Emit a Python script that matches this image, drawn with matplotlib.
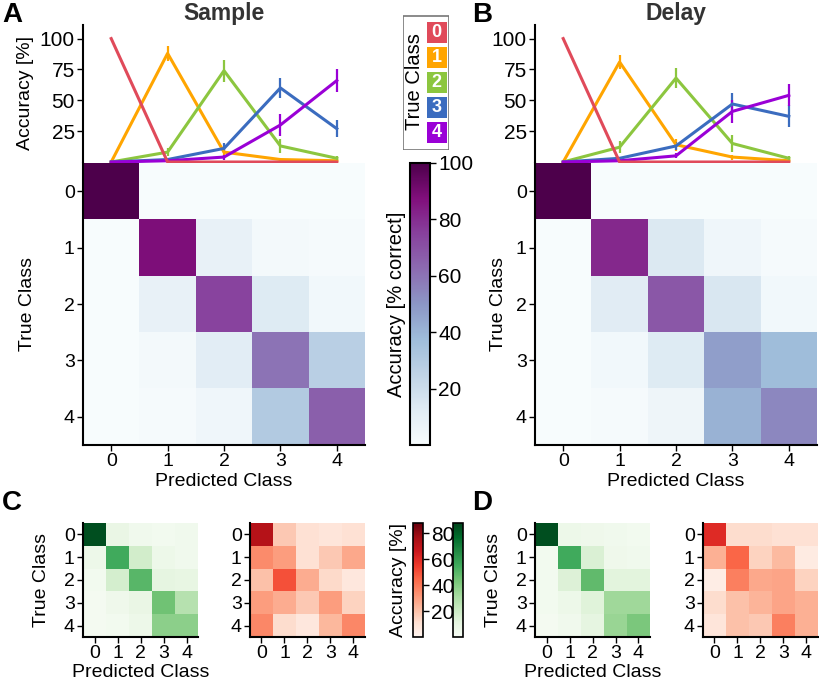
import numpy as np
import matplotlib
matplotlib.use("Agg")
import matplotlib.pyplot as plt
from matplotlib.patches import Rectangle

plt.rcParams['font.family'] = ['Liberation Sans', 'DejaVu Sans']

classes = [0, 1, 2, 3, 4]
class_colors = ['#e04a5a', '#ffa500', '#8cc63f', '#3b6cbf', '#9a00d6']

# Confusion matrices (rows = true class, cols = predicted class), % correct
sample_cm = [
    [100, 0, 0, 0, 0],
    [0, 88, 8, 2, 1],
    [0, 8, 74, 13, 3],
    [0, 2, 11, 60, 27],
    [0, 1, 4, 30, 66],
]
sample_err = [
    [0, 0, 0, 0, 0],
    [0, 6, 3, 1, 1],
    [0, 3, 9, 6, 2],
    [0, 1, 4, 8, 7],
    [0, 1, 2, 9, 9],
]
delay_cm = [
    [100, 0, 0, 0, 0],
    [0, 81, 14, 4, 1],
    [0, 12, 68, 15, 3],
    [0, 3, 13, 47, 37],
    [0, 1, 5, 41, 54],
]
delay_err = [
    [0, 0, 0, 0, 0],
    [0, 6, 5, 2, 1],
    [0, 5, 8, 7, 2],
    [0, 1, 3, 9, 9],
    [0, 1, 2, 9, 9],
]
# Single-example matrices (bottom row)
sample_green = [
    [85, 8, 4, 3, 4],
    [6, 55, 18, 6, 4],
    [3, 17, 50, 10, 9],
    [2, 5, 8, 45, 27],
    [2, 3, 6, 38, 38],
]
sample_red = [
    [72, 18, 10, 8, 10],
    [35, 30, 10, 18, 27],
    [20, 50, 26, 13, 7],
    [30, 26, 18, 30, 15],
    [36, 12, 7, 23, 36],
]
delay_green = [
    [85, 6, 5, 4, 3],
    [3, 55, 15, 5, 4],
    [3, 14, 48, 12, 12],
    [3, 6, 13, 33, 33],
    [2, 4, 10, 35, 42],
]
delay_red = [
    [60, 12, 12, 10, 10],
    [25, 45, 15, 22, 5],
    [4, 38, 27, 28, 15],
    [12, 20, 24, 28, 25],
    [8, 20, 18, 38, 25],
]
main_ticks = [20, 40, 60, 80, 100]
line_ticks = [25, 50, 75, 100]
small_ticks = [20, 40, 60, 80]
small_vmax = 88

W, H = 820, 683
fig = plt.figure(figsize=(W / 100, H / 100), dpi=100)


def ax_px(x0, y0, x1, y1):
    return fig.add_axes([x0 / W, 1 - y1 / H, (x1 - x0) / W, (y1 - y0) / H])


FS = 14


def style_heat(ax, fs=FS):
    ax.set_xticks(classes)
    ax.set_yticks(classes)
    ax.set_xticklabels([str(c) for c in classes], fontsize=fs)
    ax.set_yticklabels([str(c) for c in classes], fontsize=fs)
    for s in ['top', 'right']:
        ax.spines[s].set_visible(False)
    for s in ['left', 'bottom']:
        ax.spines[s].set_linewidth(1.5)
    ax.tick_params(length=4, width=1, pad=2)


def heat(ax, data, cmap, vmax):
    im = ax.imshow(np.array(data, float), cmap=cmap, vmin=0, vmax=vmax,
                   aspect='auto', interpolation='nearest')
    return im


def lines(ax, cm, err):
    for i, c in enumerate(classes):
        ax.errorbar(classes, cm[i], yerr=err[i], color=class_colors[i],
                    lw=2.2, elinewidth=1.6, capsize=0, clip_on=False, zorder=3 + (i == 0))
    ax.set_xlim(-0.5, 4.5)
    ax.set_ylim(0, 111)
    ax.set_yticks(line_ticks)
    ax.set_yticklabels([str(t) for t in line_ticks], fontsize=FS + 1)
    ax.set_xticks([])
    for s in ['top', 'right', 'bottom']:
        ax.spines[s].set_visible(False)
    ax.spines['left'].set_linewidth(1.5)
    ax.tick_params(axis='y', length=4, width=1, pad=2)
    ax.patch.set_alpha(0)


# ---- Panel A ----
axA = ax_px(83, 25, 365, 162)
lines(axA, sample_cm, sample_err)
axA.set_ylabel('Accuracy [%]', fontsize=FS, labelpad=4)
axA.set_title('Sample', fontsize=16.5, fontweight='bold', color='#333333', pad=3)

hA = ax_px(83, 163, 365, 445)
im_main = heat(hA, sample_cm, 'BuPu', 100)
style_heat(hA)
hA.set_xlabel('Predicted Class', fontsize=FS, labelpad=2)
hA.set_ylabel('True Class', fontsize=FS, labelpad=20)

# ---- Panel B ----
axB = ax_px(535, 25, 817, 162)
lines(axB, delay_cm, delay_err)
axB.set_title('Delay', fontsize=16.5, fontweight='bold', color='#333333', pad=3)

hB = ax_px(535, 163, 817, 445)
heat(hB, delay_cm, 'BuPu', 100)
style_heat(hB)
hB.set_xlabel('Predicted Class', fontsize=FS, labelpad=2)
hB.set_ylabel('True Class', fontsize=FS, labelpad=6)

# ---- main colorbar ----
cax = ax_px(410, 163, 430, 445)
cb = fig.colorbar(im_main, cax=cax)
cb.set_ticks(main_ticks)
cb.ax.tick_params(labelsize=FS + 1, length=4, width=1, pad=2)
cb.outline.set_linewidth(1.5)
cax.yaxis.set_label_position('left')
cb.set_label('Accuracy [% correct]', fontsize=FS + 0.5, labelpad=3)

# ---- legend ----
lg = ax_px(403, 15, 449, 150)
lg.set_xlim(0, 46)
lg.set_ylim(135, 0)
lg.axis('off')
lg.add_patch(Rectangle((0.5, 0.5), 45, 134, fill=False, ec='#777777', lw=1.2))
lg.text(12, 67, 'True Class', rotation=90, ha='center', va='center', fontsize=FS + 0.5)
for i, c in enumerate(classes):
    y0 = 7 + i * 25
    lg.add_patch(Rectangle((24, y0), 19.5, 21, color=class_colors[i], lw=0))
    lg.text(33.7, y0 + 10.8, str(c), ha='center', va='center', color='white',
            fontsize=13, fontweight='bold')

# ---- Panel C ----
cG = ax_px(83, 523, 198, 637)
imG = heat(cG, sample_green, 'Greens', small_vmax)
style_heat(cG)
cG.set_xlabel('Predicted Class', fontsize=FS, labelpad=1)
cG.set_ylabel('True Class', fontsize=FS, labelpad=10)

cR = ax_px(250, 523, 365, 637)
imR = heat(cR, sample_red, 'Reds', small_vmax)
style_heat(cR)

# small colorbars
rcax = ax_px(413, 523, 423, 637)
rcb = fig.colorbar(imR, cax=rcax)
rcb.set_ticks(small_ticks)
rcb.ax.tick_params(labelsize=FS + 1, length=4, width=1, pad=2)
rcb.outline.set_linewidth(1.2)
rcax.yaxis.set_label_position('left')
rcb.set_label('Accuracy [%]', fontsize=FS, labelpad=4)

gcax = ax_px(453, 523, 463, 637)
gcb = fig.colorbar(imG, cax=gcax)
gcb.set_ticks([])
gcb.outline.set_linewidth(1.2)

# ---- Panel D ----
dG = ax_px(535, 523, 650, 637)
heat(dG, delay_green, 'Greens', small_vmax)
style_heat(dG)
dG.set_xlabel('Predicted Class', fontsize=FS, labelpad=1)
dG.set_ylabel('True Class', fontsize=FS, labelpad=10)

dR = ax_px(703, 523, 818, 637)
heat(dR, delay_red, 'Reds', small_vmax)
style_heat(dR)

# panel letters
for txt, x, y in [('A', 2, 2), ('B', 472, 2), ('C', 2, 490), ('D', 472, 490)]:
    fig.text(x / W, 1 - y / H, txt, fontsize=20, fontweight='bold', va='top', ha='left')

fig.savefig('out.png', dpi=100)
